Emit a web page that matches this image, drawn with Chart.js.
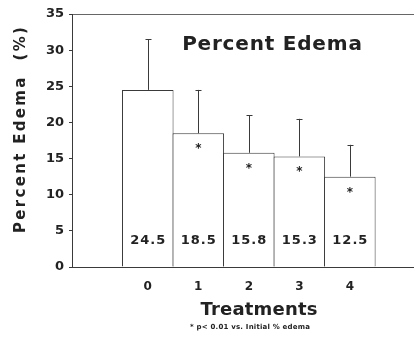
<!DOCTYPE html>
<html>
<head>
<meta charset="utf-8">
<title>Percent Edema</title>
<script src="https://cdn.jsdelivr.net/npm/chart.js@4.4.0/dist/chart.umd.min.js"></script>
<style>
  html, body { margin: 0; padding: 0; background: #fff; }
  #wrap { width: 414px; height: 345px; }
</style>
</head>
<body>
<div id="wrap"><canvas id="chart"></canvas></div>
<script>
// valeurs
var treatments = [0, 1, 2, 3, 4];
var treatmentLabels = ['0', '1', '2', '3', '4'];
var meanEdema = [24.5, 18.5, 15.8, 15.3, 12.5];
var sdEdema = [7.0, 6.0, 5.2, 5.2, 4.4];
var significant = [false, true, true, true, true];
var yTickValues = [0, 5, 10, 15, 20, 25, 30, 35];

var chartTitle = 'Percent Edema';
var yTitle = 'Percent Edema  (%)';
var xTitle = 'Treatments';
var footnote = '* p< 0.01 vs. Initial % edema';

var ink = '#222';
var lineInk = '#3a3a3a';
var family = '"DejaVu Sans", Verdana, sans-serif';

// petit utilitaire pour du texte espacé (letterSpacing du canvas)
function drawText(ctx, text, x, y, size, spacing, angle) {
  ctx.save();
  ctx.font = 'bold ' + size + 'px ' + family;
  ctx.fillStyle = ink;
  ctx.textAlign = 'center';
  ctx.textBaseline = 'middle';
  if ('letterSpacing' in ctx) ctx.letterSpacing = spacing + 'px';
  ctx.translate(x, y);
  if (angle) ctx.rotate(angle);
  ctx.fillText(text, spacing / 2, 0);
  ctx.restore();
}

var decor = {
  id: 'decor',
  afterDatasetsDraw: function(chart) {
    var ctx = chart.ctx;
    var yScale = chart.scales.y;
    var meta = chart.getDatasetMeta(0);

    meta.data.forEach(function(bar, i) {
      var top = yScale.getPixelForValue(meanEdema[i]);
      var errTop = yScale.getPixelForValue(meanEdema[i] + sdEdema[i]);
      var cx = Math.round(bar.x);

      // barre d'erreur (vers le haut seulement)
      ctx.save();
      ctx.strokeStyle = lineInk;
      ctx.lineWidth = 1;
      ctx.beginPath();
      ctx.moveTo(cx + 0.5, top);
      ctx.lineTo(cx + 0.5, errTop);
      ctx.moveTo(cx - 2.5, Math.round(errTop) + 0.5);
      ctx.lineTo(cx + 3.5, Math.round(errTop) + 0.5);
      ctx.stroke();
      ctx.restore();

      // astérisque
      if (significant[i]) {
        ctx.save();
        ctx.font = 'bold 12px ' + family;
        ctx.fillStyle = ink;
        ctx.textAlign = 'center';
        ctx.textBaseline = 'alphabetic';
        ctx.fillText('*', bar.x, top + 19);
        ctx.restore();
      }

      // valeur en bas de la barre
      drawText(ctx, meanEdema[i].toFixed(1), bar.x, yScale.getPixelForValue(0) - 26, 13, 1);
    });
  },
  afterDraw: function(chart) {
    var ctx = chart.ctx;
    drawText(ctx, chartTitle, 272, 45, 20, 0.8);
    drawText(ctx, yTitle, 21, 130, 15, 2.3, -Math.PI / 2);
    drawText(ctx, xTitle, 259, 310, 18, 0.2);
    drawText(ctx, footnote, 250, 327, 7, 0.2);
  }
};

var ctx = document.getElementById('chart').getContext('2d');

window.myChart = new Chart(ctx, {
  type: 'bar',
  data: {
    datasets: [{
      label: chartTitle,
      data: treatments.map(function(t, i) { return { x: t, y: meanEdema[i] }; }),
      backgroundColor: '#ffffff',
      borderColor: lineInk,
      borderWidth: 1,
      barPercentage: 1.02,
      categoryPercentage: 1
    }]
  },
  options: {
    responsive: true,
    maintainAspectRatio: false,
    animation: false,
    devicePixelRatio: 1,
    layout: { padding: { top: 14, right: 0, bottom: 0, left: 0 } },
    plugins: {
      legend: { display: false },
      tooltip: { enabled: false }
    },
    scales: {
      x: {
        type: 'linear',
        offset: false,
        min: -1.5,
        max: 5.27,
        afterBuildTicks: function(scale) {
          scale.ticks = treatments.map(function(v) { return { value: v }; });
        },
        afterFit: function(scale) { scale.height = 78; },
        ticks: {
          autoSkip: false,
          maxRotation: 0,
          padding: 13,
          color: ink,
          font: { family: family, size: 12, weight: 'bold' },
          callback: function(v) { return treatmentLabels[treatments.indexOf(v)]; }
        },
        grid: { offset: false, drawOnChartArea: false, drawTicks: false },
        border: { display: true, color: lineInk, width: 1 }
      },
      y: {
        min: 0,
        max: 35,
        afterBuildTicks: function(scale) {
          scale.ticks = yTickValues.map(function(v) { return { value: v }; });
        },
        afterFit: function(scale) { scale.width = 72; },
        ticks: {
          padding: 5,
          color: ink,
          font: { family: family, size: 13, weight: 'bold' }
        },
        grid: {
          drawOnChartArea: true,
          color: function(c) {
            return c.tick && c.tick.value === 35 ? '#666' : 'rgba(0,0,0,0)';
          },
          tickColor: lineInk,
          tickLength: 3
        },
        border: { display: true, color: lineInk, width: 1 }
      }
    }
  },
  plugins: [decor]
});
</script>
</body>
</html>
